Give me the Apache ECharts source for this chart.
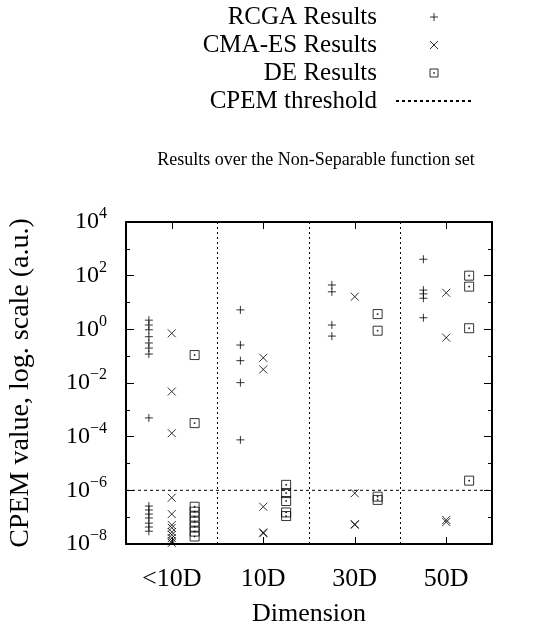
<!DOCTYPE html>
<html>
<head>
<meta charset="utf-8">
<script src="https://cdn.jsdelivr.net/npm/echarts@6/dist/echarts.min.js"></script>
<style>html,body{margin:0;background:#fff}#chart{width:547px;height:630px}</style>
</head>
<body>
<div id="chart"></div>
<script>
// dimension groups and where they sit on the x scale
const groups = ['<10D', '10D', '30D', '50D'];
const groupPos = [1, 3, 5, 7];

// CPEM values per group
const rcga = [
  [2.2, 1.45, 0.96, 0.53, 0.31, 0.2, 0.12, 5e-4, 2.6e-7, 1.85e-7, 1.3e-7, 9.3e-8, 6e-8, 4.3e-8, 3e-8],
  [5.3, 0.26, 0.068, 0.0103, 7.6e-5],
  [45, 25, 1.45, 0.56],
  [410, 29, 21, 14.4, 2.7]
];
const cmaes = [
  [0.71, 4.8e-3, 1.35e-4, 5.3e-7, 1.3e-7, 5.1e-8, 4e-8, 2.8e-8, 2.2e-8, 1.66e-8, 1.3e-8, 1.1e-8],
  [0.087, 0.032, 2.45e-7, 2.7e-8, 2.5e-8],
  [16.5, 7.8e-7, 5.5e-8, 5.2e-8],
  [23, 0.49, 7.9e-8, 6.6e-8]
];
const de = [
  [0.11, 3.2e-4, 2.45e-7, 1.6e-7, 1.05e-7, 6.8e-8, 4.4e-8, 2.9e-8, 1.9e-8],
  [1.6e-6, 7.9e-7, 4e-7, 1.5e-7, 1.1e-7],
  [3.7, 0.89, 5.8e-7, 4.4e-7],
  [100, 39, 1.1, 2.3e-6]
];
const threshold = 1e-6;
const dividers = [2, 4, 6];
const yExpMin = -8, yExpMax = 4;

const FONT = 'Liberation Serif';
const FS = 26;
const PLUS = 'path://M0,5L10,5M5,0L5,10';
const CROSS = 'path://M0,0L10,10M10,0L0,10';
const BOX = 'path://M0,0L10,0L10,10L0,10ZM4.5,4.5L5.5,4.5L5.5,5.5L4.5,5.5Z';

function points(vals, offset) {
  const out = [];
  vals.forEach((arr, g) => arr.forEach(v => out.push([groupPos[g] + offset, Math.log10(v)])));
  return out;
}

function markStyle() {
  return { color: 'transparent', borderColor: '#000', borderWidth: 1 };
}

const chart = echarts.init(document.getElementById('chart'), null, { renderer: 'canvas' });

const sup = e => '{b|10}{s|' + (e < 0 ? '\u2212' : '') + Math.abs(e) + '}';

chart.setOption({
  animation: false,
  backgroundColor: '#fff',
  textStyle: { fontFamily: FONT, color: '#000' },
  title: {
    text: 'Results over the Non-Separable function set',
    left: 311, textAlign: 'center', top: 146,
    textStyle: { fontFamily: FONT, fontSize: 18, fontWeight: 'normal', color: '#000' }
  },
  legend: {
    orient: 'vertical',
    align: 'right',
    right: 74, top: 4, padding: 0,
    itemWidth: 76, itemHeight: 8, itemGap: 2,
    selectedMode: false,
    itemStyle: { borderWidth: 1 },
    textStyle: { fontFamily: FONT, fontSize: 25, color: '#000', lineHeight: 26, padding: [0, 14, 0, 0] },
    data: ['RCGA Results', 'CMA-ES Results', 'DE Results',
      { name: 'CPEM threshold', itemStyle: { opacity: 0 } }]
  },
  grid: { left: 126, right: 55, top: 222, bottom: 86, containLabel: false, outerBoundsMode: 'none' },
  xAxis: [{
    type: 'value', min: 0, max: 8,
    name: 'Dimension', nameLocation: 'middle', nameGap: 57,
    nameTextStyle: { fontFamily: FONT, fontSize: FS, color: '#000' },
    axisLine: { onZero: false, lineStyle: { color: '#000', width: 2 } },
    axisTick: { inside: true, length: 7, customValues: groupPos, lineStyle: { color: '#000' } },
    axisLabel: {
      customValues: groupPos, margin: 22,
      fontFamily: FONT, fontSize: FS, color: '#000',
      formatter: v => groups[groupPos.indexOf(v)] || ''
    },
    splitLine: { show: false }
  }, {
    type: 'value', min: 0, max: 8, position: 'top',
    axisLine: { onZero: false, lineStyle: { color: '#000', width: 2 } },
    axisTick: { inside: true, length: 7, customValues: groupPos, lineStyle: { color: '#000' } },
    axisLabel: { show: false },
    splitLine: { show: false }
  }],
  yAxis: [{
    type: 'value', min: yExpMin, max: yExpMax, interval: 2,
    name: 'CPEM value, log. scale (a.u.)', nameLocation: 'middle', nameGap: 91,
    nameTextStyle: { fontFamily: FONT, fontSize: 28, color: '#000' },
    axisLine: { onZero: false, lineStyle: { color: '#000', width: 2 } },
    axisTick: { inside: true, length: 8, lineStyle: { color: '#000' } },
    minorTick: { show: true, splitNumber: 2, length: 4, lineStyle: { color: '#000' } },
    axisLabel: {
      margin: 19, formatter: v => sup(v),
      rich: {
        b: { fontFamily: FONT, fontSize: 24, color: '#000', lineHeight: 32 },
        s: { fontFamily: FONT, fontSize: 16, color: '#000', verticalAlign: 'top', lineHeight: 32 }
      }
    },
    splitLine: { show: false }
  }, {
    type: 'value', min: yExpMin, max: yExpMax, interval: 2, position: 'right',
    axisLine: { onZero: false, lineStyle: { color: '#000', width: 2 } },
    axisTick: { inside: true, length: 8, lineStyle: { color: '#000' } },
    minorTick: { show: true, splitNumber: 2, length: 4, lineStyle: { color: '#000' } },
    axisLabel: { show: false },
    splitLine: { show: false }
  }],
  series: [{
    name: 'RCGA Results', type: 'scatter',
    symbol: PLUS, symbolSize: 8,
    itemStyle: markStyle(), emphasis: { disabled: true },
    data: points(rcga, -0.5),
    markLine: {
      silent: true, symbol: 'none', label: { show: false },
      lineStyle: { color: '#000', width: 1, type: [2, 3] },
      data: dividers.map(x => ({ xAxis: x }))
    }
  }, {
    name: 'CMA-ES Results', type: 'scatter',
    symbol: CROSS, symbolSize: 8,
    itemStyle: markStyle(), emphasis: { disabled: true },
    data: points(cmaes, 0)
  }, {
    name: 'DE Results', type: 'scatter',
    symbol: BOX, symbolSize: 9,
    itemStyle: markStyle(), emphasis: { disabled: true },
    data: points(de, 0.5)
  }, {
    name: 'CPEM threshold', type: 'line',
    symbol: 'none', silent: true,
    lineStyle: { color: '#000', width: 1, type: [3, 3] },
    itemStyle: { color: '#000' },
    data: [[0, Math.log10(threshold)], [8, Math.log10(threshold)]]
  }]
});
</script>
</body>
</html>
